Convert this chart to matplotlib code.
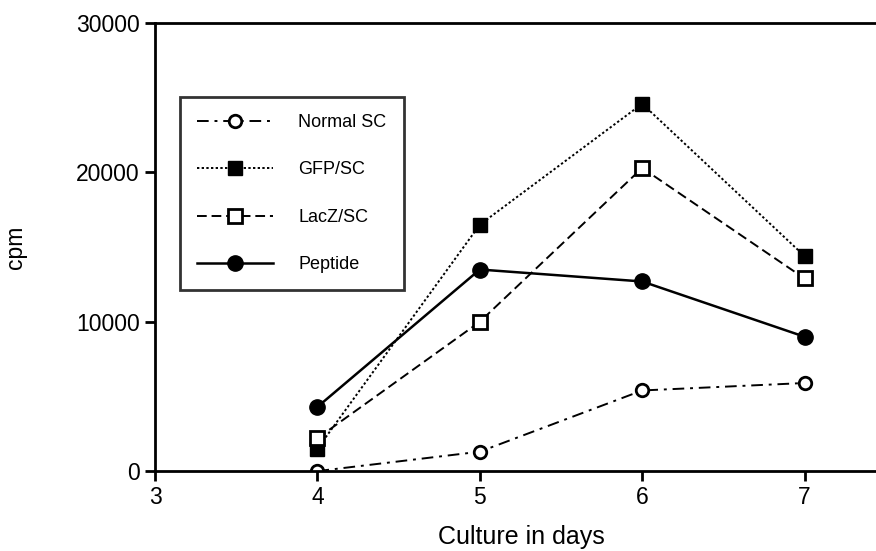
import matplotlib.pyplot as plt

plt.rcParams["font.family"] = ["Liberation Sans", "DejaVu Sans"]

days = [4, 5, 6, 7]
normal_sc = [0, 1300, 5400, 5900]
gfp_sc = [1500, 16500, 24600, 14400]
lacz_sc = [2200, 10000, 20300, 12900]
peptide = [4300, 13500, 12700, 9000]

fig = plt.figure(figsize=(8.76, 5.51), dpi=100)
ax = fig.add_axes([0.177, 0.145, 0.823, 0.813])

lw = 1.4
ax.plot(days, normal_sc, linestyle=(0, (6, 3, 1.5, 3)), color="black", lw=lw,
        marker="o", markersize=9, markerfacecolor="white", markeredgewidth=2,
        label="Normal SC")
ax.plot(days, gfp_sc, linestyle=(0, (1.2, 1.2)), color="black", lw=lw,
        marker="s", markersize=10, markerfacecolor="black", label="GFP/SC")
ax.plot(days, lacz_sc, linestyle=(0, (5, 2.5)), color="black", lw=lw,
        marker="s", markersize=10, markerfacecolor="white", markeredgewidth=2,
        label="LacZ/SC")
ax.plot(days, peptide, linestyle="-", color="black", lw=1.8,
        marker="o", markersize=11, markerfacecolor="black", label="Peptide")

ax.set_xlim(3, 7.44)
ax.set_ylim(0, 30000)
ax.set_xticks([3, 4, 5, 6, 7])
ax.set_yticks([0, 10000, 20000, 30000])
ax.tick_params(axis="both", labelsize=16.5, width=2, length=7, pad=4, direction="out")
ax.spines["right"].set_visible(False)
for s in ["left", "bottom", "top"]:
    ax.spines[s].set_linewidth(2)

ax.set_xlabel("Culture in days", fontsize=18)
ax.xaxis.set_label_coords(0.508, -0.12)
ax.set_ylabel("cpm", fontsize=16.5)
ax.yaxis.set_label_coords(-0.178, 0.5)

leg = ax.legend(loc="upper left", bbox_to_anchor=(180 / 876, 1 - 97 / 551),
                bbox_transform=fig.transFigure, fontsize=13, frameon=True,
                fancybox=False, edgecolor="black", handlelength=4.2,
                labelspacing=1.68, borderpad=0.95, handletextpad=1.4,
                borderaxespad=0)
leg.get_frame().set_linewidth(2)

fig.savefig("out.png", dpi=100)
